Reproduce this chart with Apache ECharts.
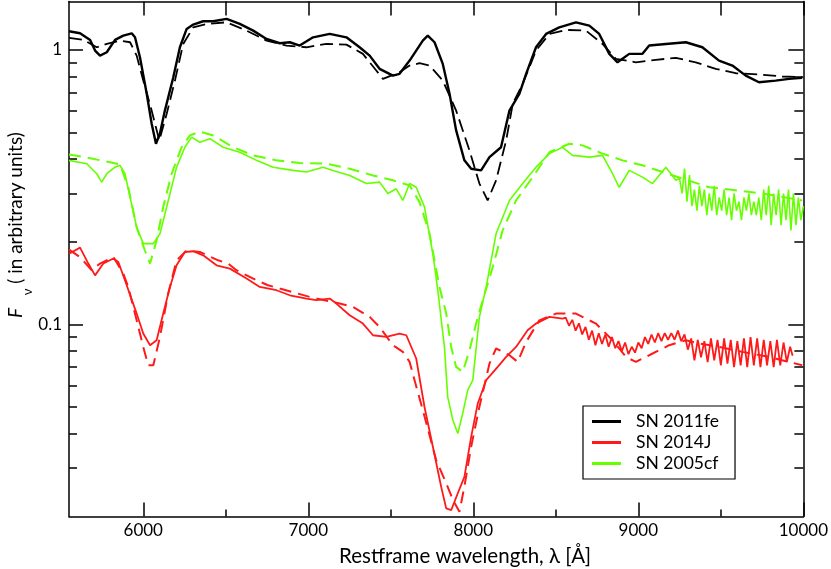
<!DOCTYPE html>
<html>
<head>
<meta charset="utf-8">
<title>SN spectra</title>
<script src="https://cdn.jsdelivr.net/npm/echarts@6/dist/echarts.min.js"></script>
<style>
  html, body { margin: 0; padding: 0; background: #fff; }
  #chart { width: 831px; height: 569px; }
</style>
</head>
<body>
<div id="chart"></div>
<script>
// observed spectra and model fits, [wavelength (A), F_nu]
const sn2011fe = [[5550,1.169],[5617,1.149],[5678,1.087],[5708,0.994],[5738,0.953],[5779,0.980],[5829,1.087],[5879,1.127],[5930,1.149],[5950,1.111],[5980,0.940],[6021,0.692],[6051,0.538],[6077,0.455],[6101,0.496],[6131,0.601],[6182,0.795],[6222,1.022],[6263,1.192],[6303,1.236],[6363,1.271],[6424,1.271],[6505,1.297],[6585,1.243],[6666,1.175],[6747,1.096],[6827,1.057],[6888,1.066],[6948,1.037],[7029,1.111],[7130,1.143],[7231,1.111],[7311,1.022],[7372,0.953],[7432,0.853],[7513,0.806],[7553,0.818],[7614,0.914],[7654,0.994],[7694,1.081],[7724,1.127],[7765,1.066],[7815,0.889],[7856,0.692],[7896,0.509],[7946,0.396],[7987,0.369],[8047,0.364],[8098,0.407],[8168,0.442],[8219,0.601],[8279,0.692],[8320,0.818],[8380,1.022],[8441,1.143],[8521,1.208],[8622,1.260],[8703,1.226],[8763,1.143],[8824,0.967],[8874,0.901],[8945,0.967],[9025,0.967],[9066,1.037],[9167,1.051],[9288,1.066],[9388,1.022],[9489,0.914],[9570,0.877],[9651,0.806],[9731,0.762],[9832,0.773],[9913,0.784],[9993,0.791]];

const model2011fe = [[5550,1.106],[5637,1.087],[5718,1.022],[5779,1.051],[5859,1.081],[5920,1.066],[5960,0.953],[6000,0.773],[6051,0.601],[6097,0.468],[6142,0.585],[6192,0.773],[6242,1.051],[6303,1.208],[6384,1.243],[6505,1.260],[6626,1.175],[6747,1.081],[6868,1.037],[6989,1.022],[7110,1.051],[7231,1.045],[7331,0.967],[7412,0.841],[7452,0.784],[7553,0.829],[7614,0.877],[7674,0.894],[7735,0.877],[7815,0.773],[7896,0.601],[7977,0.430],[8037,0.326],[8087,0.283],[8138,0.335],[8199,0.468],[8239,0.636],[8299,0.752],[8380,0.994],[8461,1.143],[8562,1.182],[8683,1.175],[8783,1.051],[8864,0.927],[8985,0.901],[9106,0.920],[9227,0.935],[9348,0.901],[9469,0.853],[9590,0.822],[9731,0.813],[9872,0.800],[9993,0.795]];

const sn2005cf = [[5550,0.396],[5658,0.385],[5718,0.354],[5748,0.330],[5779,0.354],[5829,0.374],[5859,0.380],[5889,0.354],[5920,0.291],[5960,0.226],[6000,0.197],[6061,0.197],[6101,0.214],[6142,0.268],[6202,0.374],[6252,0.442],[6293,0.481],[6343,0.461],[6404,0.475],[6484,0.442],[6585,0.424],[6686,0.396],[6787,0.374],[6908,0.364],[6989,0.359],[7089,0.374],[7150,0.364],[7251,0.349],[7352,0.326],[7432,0.330],[7482,0.300],[7533,0.312],[7573,0.283],[7614,0.326],[7654,0.316],[7704,0.268],[7755,0.181],[7785,0.133],[7825,0.0829],[7845,0.0545],[7876,0.0449],[7906,0.0401],[7936,0.0475],[7966,0.0577],[7997,0.0627],[8037,0.1066],[8078,0.137],[8138,0.214],[8219,0.283],[8299,0.326],[8380,0.374],[8461,0.419],[8541,0.442],[8602,0.413],[8703,0.407],[8783,0.413],[8844,0.354],[8884,0.316],[8945,0.364],[9025,0.344],[9086,0.326],[9167,0.374],[9227,0.335],
  [9250,0.34],[9265,0.30],[9280,0.37],[9295,0.28],[9310,0.35],[9325,0.27],[9340,0.31],[9355,0.26],[9370,0.32],[9385,0.27],[9400,0.31],[9415,0.25],[9430,0.30],[9445,0.26],[9460,0.32],[9475,0.25],[9490,0.29],[9505,0.26],[9520,0.31],[9535,0.25],[9550,0.29],[9565,0.24],[9580,0.30],[9595,0.26],[9610,0.28],[9625,0.24],[9640,0.29],[9655,0.26],[9670,0.30],[9685,0.25],[9700,0.28],[9715,0.25],[9730,0.29],[9745,0.24],[9760,0.31],[9775,0.25],[9790,0.32],[9805,0.23],[9820,0.30],[9835,0.25],[9850,0.31],[9865,0.23],[9880,0.30],[9895,0.24],[9910,0.31],[9925,0.22],[9940,0.30],[9955,0.23],[9970,0.29],[9985,0.24],[10000,0.27]];

const model2005cf = [[5550,0.416],[5658,0.405],[5799,0.390],[5859,0.383],[5909,0.316],[5960,0.226],[6010,0.186],[6041,0.1667],[6081,0.2025],[6121,0.268],[6172,0.354],[6232,0.442],[6283,0.488],[6343,0.504],[6424,0.488],[6545,0.442],[6666,0.413],[6807,0.396],[6948,0.387],[7110,0.385],[7251,0.369],[7392,0.349],[7513,0.335],[7614,0.321],[7674,0.279],[7735,0.214],[7795,0.137],[7836,0.1096],[7866,0.0829],[7896,0.0701],[7936,0.0672],[7977,0.0806],[8017,0.1008],[8057,0.1226],[8118,0.162],[8178,0.2203],[8259,0.283],[8360,0.344],[8461,0.424],[8582,0.455],[8662,0.449],[8783,0.419],[8904,0.396],[9025,0.380],[9146,0.359],[9267,0.340],[9429,0.316],[9590,0.308],[9751,0.300],[9993,0.283]];

const sn2014J = [[5550,0.181],[5617,0.1905],[5667,0.1667],[5708,0.151],[5758,0.1667],[5819,0.174],[5849,0.169],[5889,0.145],[5960,0.1096],[6000,0.0927],[6041,0.0841],[6081,0.0877],[6121,0.1096],[6162,0.137],[6202,0.1643],[6252,0.1837],[6303,0.1848],[6363,0.1786],[6444,0.1643],[6525,0.1598],[6626,0.147],[6706,0.137],[6807,0.1333],[6888,0.1278],[6989,0.1243],[7049,0.1226],[7130,0.1243],[7170,0.1192],[7251,0.1081],[7331,0.1008],[7392,0.0914],[7473,0.0901],[7553,0.0927],[7594,0.0914],[7654,0.0752],[7704,0.0502],[7755,0.0359],[7805,0.0257],[7836,0.0214],[7866,0.0211],[7906,0.0243],[7946,0.0279],[7987,0.0390],[8027,0.0516],[8078,0.0627],[8148,0.0701],[8199,0.0762],[8259,0.0829],[8329,0.0953],[8380,0.1008],[8461,0.1066],[8541,0.1051],
  [8560,0.106],[8580,0.099],[8600,0.104],[8620,0.095],[8640,0.101],[8660,0.092],[8680,0.098],[8700,0.088],[8720,0.095],[8740,0.084],[8760,0.093],[8780,0.085],[8800,0.092],[8820,0.083],[8840,0.090],[8860,0.082],[8880,0.087],[8900,0.080],[8920,0.086],[8940,0.078],[8960,0.083],[8980,0.079],[9000,0.086],[9020,0.082],[9040,0.090],[9060,0.085],[9080,0.092],[9100,0.086],[9120,0.093],[9140,0.087],[9160,0.093],[9180,0.088],[9200,0.093],[9220,0.088],[9240,0.095],[9260,0.087],[9280,0.092],[9300,0.081],[9320,0.089],[9340,0.074],[9360,0.088],[9380,0.076],[9400,0.087],[9420,0.073],[9440,0.089],[9460,0.074],[9480,0.088],[9500,0.071],[9520,0.089],[9540,0.072],[9560,0.088],[9580,0.070],[9600,0.087],[9620,0.071],[9640,0.089],[9660,0.070],[9680,0.090],[9700,0.071],[9720,0.089],[9740,0.070],[9760,0.088],[9780,0.071],[9800,0.087],[9820,0.070],[9840,0.088],[9860,0.071],[9880,0.086],[9900,0.073],[9920,0.083],[9935,0.077]];

const model2014J = [[5550,0.1874],[5617,0.176],[5688,0.1576],[5738,0.1667],[5819,0.176],[5879,0.1532],[5909,0.137],[5960,0.1036],[6000,0.0829],[6030,0.0711],[6061,0.0711],[6101,0.0901],[6151,0.1297],[6202,0.1713],[6263,0.186],[6343,0.1837],[6454,0.1713],[6514,0.1667],[6565,0.1576],[6686,0.145],[6756,0.139],[6827,0.1352],[7009,0.126],[7190,0.1192],[7271,0.1159],[7372,0.1066],[7432,0.098],[7513,0.0841],[7573,0.0795],[7614,0.0731],[7644,0.0627],[7694,0.0488],[7775,0.0321],[7836,0.0264],[7876,0.0230],[7916,0.0208],[7946,0.0257],[7987,0.0359],[8037,0.0502],[8098,0.0721],[8138,0.0818],[8219,0.0773],[8269,0.0731],[8320,0.0864],[8400,0.1036],[8501,0.1096],[8622,0.1096],[8743,0.1008],[8844,0.0877],[8925,0.0762],[8985,0.0731],[9066,0.0773],[9187,0.0841],[9288,0.0877],[9368,0.0853],[9489,0.0829],[9630,0.0795],[9792,0.0762],[9993,0.0711]];

// axis ranges and ticks
const xRange = [5550, 10000];
const xMajorTicks = [6000, 7000, 8000, 9000, 10000];
const xMinorTicks = [6500, 7500, 8500, 9500];
const yRange = [0.02, 1.5];
const yMajorTicks = [0.1, 1];
const yMinorTicks = [0.03, 0.04, 0.05, 0.06, 0.07, 0.08, 0.09, 0.2, 0.3, 0.4, 0.5, 0.6, 0.7, 0.8, 0.9];

const FONT = 'Lato';
const log10 = v => Math.log10(v);

function xAxisBase(extra) {
    return Object.assign({
        type: 'value',
        min: xRange[0],
        max: xRange[1],
        splitLine: { show: false },
        axisLine: { show: false, onZero: false, lineStyle: { color: '#000', width: 1.5 } },
        axisTick: { show: false },
        axisLabel: { show: false }
    }, extra);
}

// y tick axes work in log10 space so they line up with the log axis the data uses
function yTickAxis(extra) {
    return Object.assign({
        type: 'value',
        min: log10(yRange[0]),
        max: log10(yRange[1]),
        splitLine: { show: false },
        axisLine: { show: false, onZero: false, lineStyle: { color: '#000', width: 1.5 } },
        axisTick: { show: false },
        axisLabel: { show: false }
    }, extra);
}

const tickStyle = { color: '#000', width: 1.5 };

const chart = echarts.init(document.getElementById('chart'));

chart.setOption({
    animation: false,
    backgroundColor: '#fff',
    grid: { left: 69, right: 27, top: 1.5, bottom: 52.5 },
    xAxis: [
        xAxisBase({
            position: 'bottom',
            axisLine: { show: true, onZero: false, lineStyle: { color: '#000', width: 1.5 } },
            axisTick: { show: true, inside: true, length: 14, customValues: xMajorTicks, lineStyle: tickStyle },
            axisLabel: {
                show: true,
                customValues: xMajorTicks,
                margin: 6,
                color: '#000',
                fontFamily: FONT,
                fontSize: 17,
                formatter: v => String(v)
            }
        }),
        xAxisBase({
            position: 'bottom',
            axisTick: { show: true, inside: true, length: 7, customValues: xMinorTicks, lineStyle: tickStyle }
        }),
        xAxisBase({
            position: 'top',
            axisLine: { show: true, onZero: false, lineStyle: { color: '#000', width: 1.5 } },
            axisTick: { show: true, inside: true, length: 14, customValues: xMajorTicks.concat(xMinorTicks), lineStyle: tickStyle }
        })
    ],
    yAxis: [
        {
            type: 'log',
            logBase: 10,
            min: yRange[0],
            max: yRange[1],
            show: false,
            splitLine: { show: false }
        },
        yTickAxis({
            position: 'left',
            axisLine: { show: true, onZero: false, lineStyle: { color: '#000', width: 1.5 } },
            axisTick: { show: true, inside: true, length: 14, customValues: yMajorTicks.map(log10), lineStyle: tickStyle },
            axisLabel: {
                show: true,
                customValues: yMajorTicks.map(log10),
                margin: 7,
                color: '#000',
                fontFamily: FONT,
                fontSize: 17,
                formatter: v => String(+Math.pow(10, v).toPrecision(1))
            }
        }),
        yTickAxis({
            position: 'left',
            axisTick: { show: true, inside: true, length: 8, customValues: yMinorTicks.map(log10), lineStyle: tickStyle }
        }),
        yTickAxis({
            position: 'right',
            axisLine: { show: true, onZero: false, lineStyle: { color: '#000', width: 1.5 } },
            axisTick: { show: true, inside: true, length: 15, customValues: yMajorTicks.map(log10), lineStyle: tickStyle }
        }),
        yTickAxis({
            position: 'right',
            axisTick: { show: true, inside: true, length: 9, customValues: yMinorTicks.map(log10), lineStyle: tickStyle }
        })
    ],
    legend: {
        orient: 'vertical',
        left: 583,
        top: 406,
        data: ['SN 2011fe', 'SN 2014J', 'SN 2005cf'],
        icon: 'rect',
        itemWidth: 29,
        itemHeight: 3,
        itemGap: 0,
        padding: [5, 16, 5, 9],
        borderColor: '#000',
        borderWidth: 1.2,
        backgroundColor: '#fff',
        textStyle: { color: '#000', fontFamily: FONT, fontSize: 17.5, lineHeight: 21, padding: [0, 0, 0, 10] }
    },
    graphic: [
        {
            type: 'text', x: 465, y: 556,
            style: { text: 'Restframe wavelength, λ [Å]', fontFamily: FONT, fontSize: 20.5, fill: '#000', align: 'center', verticalAlign: 'middle' }
        },
        {
            type: 'text', x: 15.5, y: 313, rotation: Math.PI / 2,
            style: { text: 'F', fontFamily: FONT, fontStyle: 'italic', fontSize: 19, fill: '#000', align: 'center', verticalAlign: 'middle' }
        },
        {
            type: 'text', x: 27.5, y: 292, rotation: Math.PI / 2,
            style: { text: 'ν', fontFamily: FONT, fontSize: 13, fill: '#000', align: 'center', verticalAlign: 'middle' }
        },
        {
            type: 'text', x: 15.5, y: 208, rotation: Math.PI / 2,
            style: { text: '( in arbitrary units)', fontFamily: FONT, fontSize: 19, fill: '#000', align: 'center', verticalAlign: 'middle' }
        }
    ],
    series: [
        { name: 'SN 2011fe', type: 'line', data: sn2011fe, showSymbol: false, color: '#000', lineStyle: { color: '#000', width: 2.4 } },
        { name: 'SN 2014J', type: 'line', data: sn2014J, showSymbol: false, color: '#ff1a1a', lineStyle: { color: '#ff1a1a', width: 1.8 } },
        { name: 'SN 2005cf', type: 'line', data: sn2005cf, showSymbol: false, color: '#66ff00', lineStyle: { color: '#66ff00', width: 1.6 } },
        { name: 'SN 2011fe model', type: 'line', data: model2011fe, showSymbol: false, lineStyle: { color: '#000', width: 1.8, type: [13, 6] } },
        { name: 'SN 2014J model', type: 'line', data: model2014J, showSymbol: false, lineStyle: { color: '#ff1a1a', width: 2, type: [12, 7] } },
        { name: 'SN 2005cf model', type: 'line', data: model2005cf, showSymbol: false, lineStyle: { color: '#66ff00', width: 2, type: [12, 7] } }
    ]
});
</script>
</body>
</html>
